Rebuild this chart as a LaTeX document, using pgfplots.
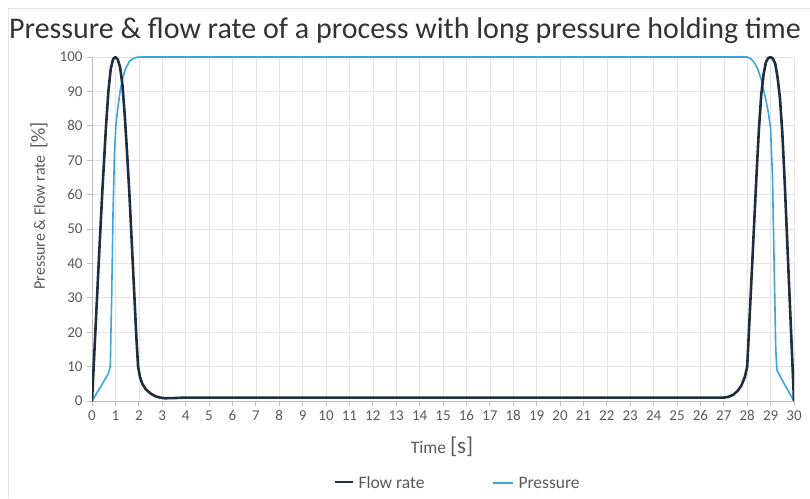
\documentclass[border=0pt]{standalone}
\usepackage{pgfplots}
\pgfplotsset{compat=1.18}
\usepackage{fontspec}
\setmainfont{Carlito}
\definecolor{flowc}{HTML}{1F2D3D}
\definecolor{presc}{HTML}{3AA6DD}
\definecolor{txtgray}{HTML}{595959}
\definecolor{gridc}{HTML}{E4E4E4}
\definecolor{axc}{HTML}{BFBFBF}

\pgfplotstableread{
t v
0 0
0.15 21
0.3 42
0.45 62
0.6 80
0.7 90
0.8 96.5
0.9 99.4
1.0 100
1.1 99.3
1.2 97
1.3 92
1.4 83
1.5 72
1.6 60
1.7 46
1.8 32
1.9 18
1.97 10
2.05 7
2.15 5
2.3 3.4
2.5 2.2
2.7 1.4
2.9 1.0
3.1 0.8
3.5 0.85
4 1
27 1
27.2 1.2
27.4 1.8
27.6 3
27.75 4.5
27.9 7
28 10
28.1 24
28.2 38
28.3 52
28.4 66
28.5 79
28.6 89
28.7 95
28.8 98.5
28.9 99.7
29.0 100
29.1 99.5
29.2 98
29.3 94
29.4 88
29.5 78
29.6 64
29.7 48
29.8 32
29.9 16
30 0
}\flowdata

\pgfplotstableread{
t v
0 0
0.4 4.5
0.7 8
0.78 10
0.84 30
0.9 55
0.96 72
1.02 80
1.1 85
1.2 90
1.3 93.5
1.4 96
1.5 97.5
1.6 98.7
1.75 99.5
1.9 99.9
2.1 100
28.0 100
28.15 99.5
28.3 98.5
28.45 96.5
28.6 93.5
28.75 89
28.9 84
29.0 79
29.08 65
29.15 40
29.22 15
29.27 9
29.5 6
30 0
}\presdata

\begin{document}
\begin{tikzpicture}[x=1pt,y=1pt]
\useasboundingbox (0,0) rectangle (810,498);
\draw[gridc, line width=1pt] (8,0) -- (8,489) -- (810,489);
\begin{axis}[
  at={(92pt,97pt)}, anchor=south west,
  scale only axis, width=702pt, height=344pt,
  xmin=0, xmax=30, ymin=0, ymax=100,
  xtick={0,1,...,30}, ytick={0,10,...,100},
  grid=major, grid style={gridc, line width=0.6pt},
  axis x line=bottom, axis y line=left,
  axis line style={axc, line width=0.8pt, -},
  tick style={axc, line width=0.8pt},
  tick align=outside, major tick length=5pt,
  ticklabel style={font=\fontsize{15}{17}\selectfont, text=txtgray},
  /pgf/number format/assume math mode=true,
  xticklabel style={yshift=-1pt},
  yticklabel style={xshift=-1pt},
]
\addplot[presc, line width=1.6pt, line join=round] table[x=t, y=v] {\presdata};
\addplot[flowc, line width=2.6pt, line join=round] table[x=t, y=v] {\flowdata};
\end{axis}
\node[text=black!80, font=\fontsize{30}{34}\selectfont] at (405,467) {Pressure \& flow rate of a process with long pressure holding time};
\node[text=txtgray, rotate=90, font=\fontsize{16}{18}\selectfont] at (39,292) {Pressure \& Flow rate \,{\fontsize{20}{22}\selectfont[\%]}};
\node[text=txtgray, font=\fontsize{17.5}{20}\selectfont] at (442,51) {Time {\fontsize{23}{25}\selectfont[s]}};
\draw[flowc, line width=2.6pt] (335,16) -- (353,16);
\node[text=txtgray, anchor=west, font=\fontsize{17.5}{20}\selectfont] at (355,16) {Flow rate};
\draw[presc, line width=2pt] (493,15) -- (513,15);
\node[text=txtgray, anchor=west, font=\fontsize{17.5}{20}\selectfont] at (515,15) {Pressure};
\end{tikzpicture}
\end{document}
